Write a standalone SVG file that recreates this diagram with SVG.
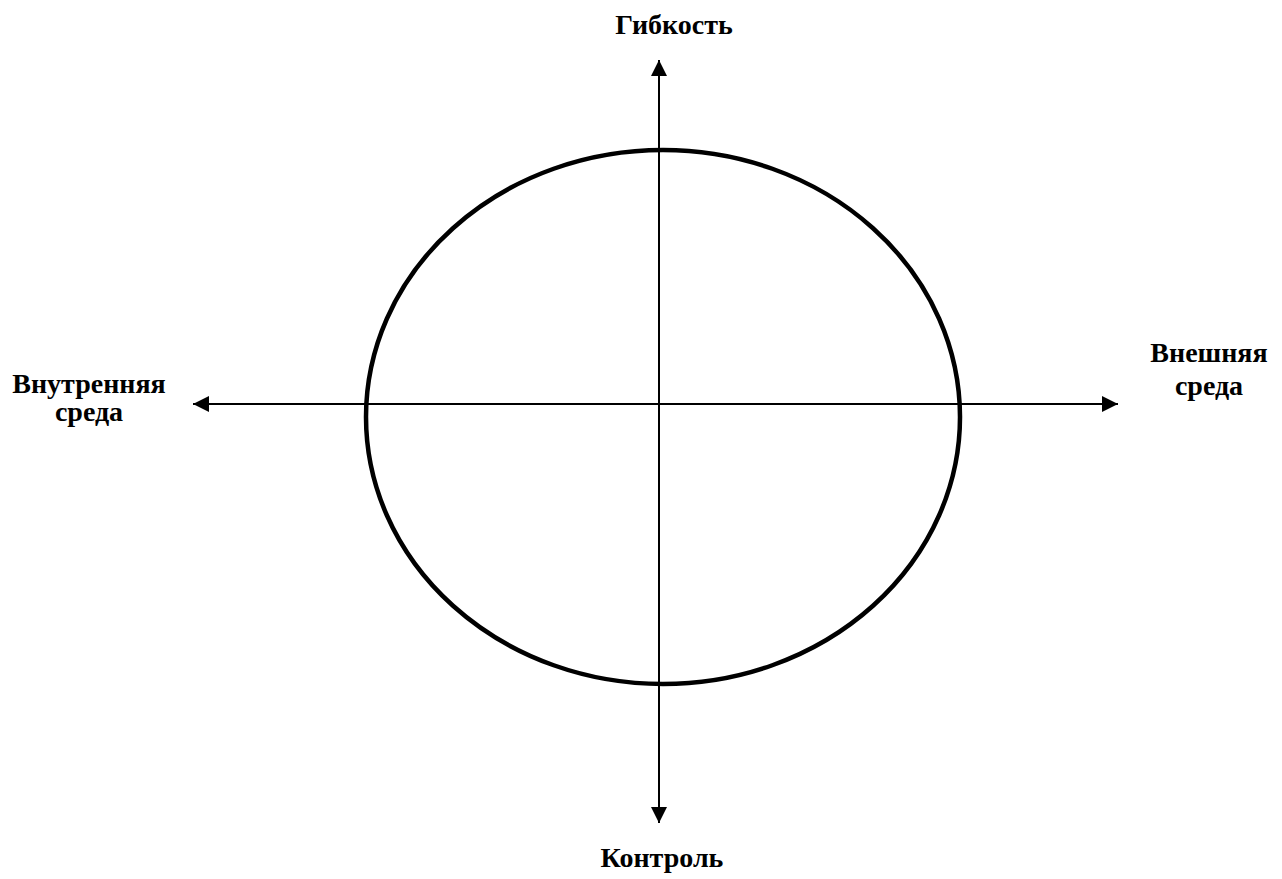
<svg xmlns="http://www.w3.org/2000/svg" width="1282" height="879" viewBox="0 0 1282 879">
<style>
.lbl{font-family:'Liberation Serif','DejaVu Serif',serif;font-weight:bold;font-size:28px;fill:#000;text-anchor:middle}
.axis{stroke:#000;stroke-width:2;fill:none}
</style>
<defs>
<marker id="arr" markerWidth="16" markerHeight="16" viewBox="0 0 16 16" refX="16" refY="8" orient="auto" markerUnits="userSpaceOnUse">
<path d="M0,0 L16,8 L0,16 Z" fill="#000"/>
</marker>
</defs>
<rect width="1282" height="879" fill="#fff"/>
<g id="ellipse-node">
<ellipse cx="663" cy="417" rx="297" ry="267" fill="none" stroke="#000" stroke-width="4.5"/>
</g>
<g id="connectors">
<line class="axis" x1="659" y1="417" x2="659" y2="60" marker-end="url(#arr)"/>
<line class="axis" x1="659" y1="417" x2="659" y2="823" marker-end="url(#arr)"/>
<line class="axis" x1="659" y1="404" x2="193" y2="404" marker-end="url(#arr)"/>
<line class="axis" x1="659" y1="404" x2="1118" y2="404" marker-end="url(#arr)"/>
</g>
<g id="label-top"><text class="lbl" font-family="Liberation Serif, serif" x="674" y="34">Гибкость</text></g>
<g id="label-bottom"><text class="lbl" font-family="Liberation Serif, serif" x="662" y="867">Контроль</text></g>
<g id="label-left"><text class="lbl" font-family="Liberation Serif, serif" x="89" y="393">Внутренняя</text><text class="lbl" font-family="Liberation Serif, serif" x="89" y="421">среда</text></g>
<g id="label-right"><text class="lbl" font-family="Liberation Serif, serif" x="1209" y="362">Внешняя</text><text class="lbl" font-family="Liberation Serif, serif" x="1209" y="395">среда</text></g>
</svg>
